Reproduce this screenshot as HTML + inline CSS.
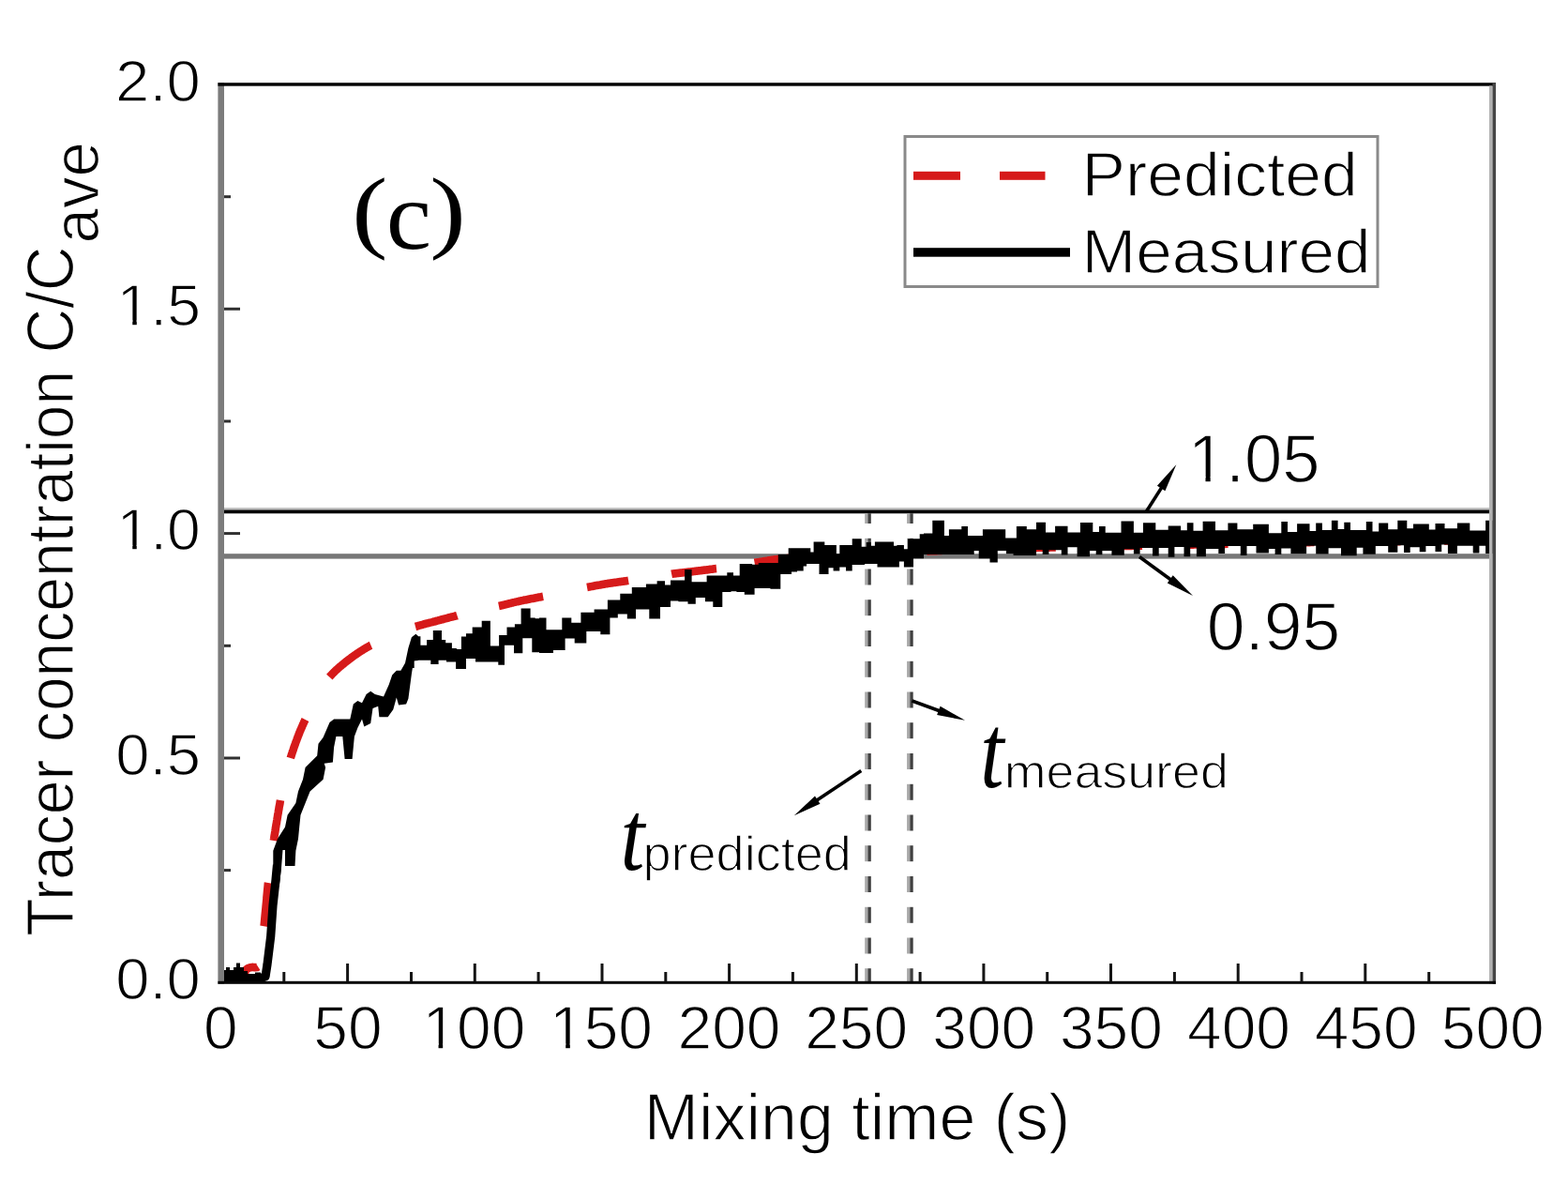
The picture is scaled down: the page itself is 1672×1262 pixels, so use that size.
<!DOCTYPE html><html><head><meta charset="utf-8"><title>Tracer concentration vs mixing time</title><style>html,body{margin:0;padding:0;background:#fff;}svg{display:block;filter:blur(0.45px);}text{font-family:"Liberation Sans",Arial,sans-serif;fill:#000;}.serif{font-family:"Liberation Serif","Times New Roman",serif;}.thin{stroke:#fff;stroke-width:1.3px;}</style></head><body><svg width="1672" height="1262" viewBox="0 0 1672 1262"><rect x="0" y="0" width="1672" height="1262" fill="#fff"/><rect x="239" y="541.2" width="1350" height="2.4" fill="#bdbdbd"/><rect x="239" y="543.5" width="1350" height="3.8" fill="#050505"/><rect x="239" y="590.2" width="1350" height="5.4" fill="#777"/><rect x="922.2" y="547.2" width="3.2" height="10.8" fill="#a8a8a8"/><rect x="925.4" y="547.2" width="3.4" height="10.8" fill="#404040"/><rect x="922.2" y="573.8" width="3.2" height="17.0" fill="#a8a8a8"/><rect x="925.4" y="573.8" width="3.4" height="17.0" fill="#404040"/><rect x="922.2" y="606.5" width="3.2" height="17.0" fill="#a8a8a8"/><rect x="925.4" y="606.5" width="3.4" height="17.0" fill="#404040"/><rect x="922.2" y="639.2" width="3.2" height="17.0" fill="#a8a8a8"/><rect x="925.4" y="639.2" width="3.4" height="17.0" fill="#404040"/><rect x="922.2" y="672.0" width="3.2" height="17.0" fill="#a8a8a8"/><rect x="925.4" y="672.0" width="3.4" height="17.0" fill="#404040"/><rect x="922.2" y="704.8" width="3.2" height="17.0" fill="#a8a8a8"/><rect x="925.4" y="704.8" width="3.4" height="17.0" fill="#404040"/><rect x="922.2" y="737.5" width="3.2" height="17.0" fill="#a8a8a8"/><rect x="925.4" y="737.5" width="3.4" height="17.0" fill="#404040"/><rect x="922.2" y="770.2" width="3.2" height="17.0" fill="#a8a8a8"/><rect x="925.4" y="770.2" width="3.4" height="17.0" fill="#404040"/><rect x="922.2" y="803.0" width="3.2" height="17.0" fill="#a8a8a8"/><rect x="925.4" y="803.0" width="3.4" height="17.0" fill="#404040"/><rect x="922.2" y="835.8" width="3.2" height="17.0" fill="#a8a8a8"/><rect x="925.4" y="835.8" width="3.4" height="17.0" fill="#404040"/><rect x="922.2" y="868.5" width="3.2" height="17.0" fill="#a8a8a8"/><rect x="925.4" y="868.5" width="3.4" height="17.0" fill="#404040"/><rect x="922.2" y="901.2" width="3.2" height="17.0" fill="#a8a8a8"/><rect x="925.4" y="901.2" width="3.4" height="17.0" fill="#404040"/><rect x="922.2" y="934.0" width="3.2" height="17.0" fill="#a8a8a8"/><rect x="925.4" y="934.0" width="3.4" height="17.0" fill="#404040"/><rect x="922.2" y="966.8" width="3.2" height="17.0" fill="#a8a8a8"/><rect x="925.4" y="966.8" width="3.4" height="17.0" fill="#404040"/><rect x="922.2" y="999.5" width="3.2" height="17.0" fill="#a8a8a8"/><rect x="925.4" y="999.5" width="3.4" height="17.0" fill="#404040"/><rect x="922.2" y="1032.2" width="3.2" height="14.2" fill="#a8a8a8"/><rect x="925.4" y="1032.2" width="3.4" height="14.2" fill="#404040"/><rect x="967.1" y="547.2" width="3.2" height="10.8" fill="#a8a8a8"/><rect x="970.3" y="547.2" width="3.4" height="10.8" fill="#404040"/><rect x="967.1" y="573.8" width="3.2" height="17.0" fill="#a8a8a8"/><rect x="970.3" y="573.8" width="3.4" height="17.0" fill="#404040"/><rect x="967.1" y="606.5" width="3.2" height="17.0" fill="#a8a8a8"/><rect x="970.3" y="606.5" width="3.4" height="17.0" fill="#404040"/><rect x="967.1" y="639.2" width="3.2" height="17.0" fill="#a8a8a8"/><rect x="970.3" y="639.2" width="3.4" height="17.0" fill="#404040"/><rect x="967.1" y="672.0" width="3.2" height="17.0" fill="#a8a8a8"/><rect x="970.3" y="672.0" width="3.4" height="17.0" fill="#404040"/><rect x="967.1" y="704.8" width="3.2" height="17.0" fill="#a8a8a8"/><rect x="970.3" y="704.8" width="3.4" height="17.0" fill="#404040"/><rect x="967.1" y="737.5" width="3.2" height="17.0" fill="#a8a8a8"/><rect x="970.3" y="737.5" width="3.4" height="17.0" fill="#404040"/><rect x="967.1" y="770.2" width="3.2" height="17.0" fill="#a8a8a8"/><rect x="970.3" y="770.2" width="3.4" height="17.0" fill="#404040"/><rect x="967.1" y="803.0" width="3.2" height="17.0" fill="#a8a8a8"/><rect x="970.3" y="803.0" width="3.4" height="17.0" fill="#404040"/><rect x="967.1" y="835.8" width="3.2" height="17.0" fill="#a8a8a8"/><rect x="970.3" y="835.8" width="3.4" height="17.0" fill="#404040"/><rect x="967.1" y="868.5" width="3.2" height="17.0" fill="#a8a8a8"/><rect x="970.3" y="868.5" width="3.4" height="17.0" fill="#404040"/><rect x="967.1" y="901.2" width="3.2" height="17.0" fill="#a8a8a8"/><rect x="970.3" y="901.2" width="3.4" height="17.0" fill="#404040"/><rect x="967.1" y="934.0" width="3.2" height="17.0" fill="#a8a8a8"/><rect x="970.3" y="934.0" width="3.4" height="17.0" fill="#404040"/><rect x="967.1" y="966.8" width="3.2" height="17.0" fill="#a8a8a8"/><rect x="970.3" y="966.8" width="3.4" height="17.0" fill="#404040"/><rect x="967.1" y="999.5" width="3.2" height="17.0" fill="#a8a8a8"/><rect x="970.3" y="999.5" width="3.4" height="17.0" fill="#404040"/><rect x="967.1" y="1032.2" width="3.2" height="14.2" fill="#a8a8a8"/><rect x="970.3" y="1032.2" width="3.4" height="14.2" fill="#404040"/><path d="M235.0,1040.0 L236.0,1040.0 L237.1,1040.1 L238.1,1040.1 L239.2,1040.2 L240.2,1040.2 L241.3,1040.3 L242.4,1040.3 L243.5,1040.3 L244.5,1040.4 L245.6,1040.4 L246.7,1040.5 L247.8,1040.5 L248.9,1040.5 L250.0,1040.5 L251.2,1040.5 L252.3,1040.5 L253.4,1040.4 L254.5,1040.3 L255.5,1040.2 L256.5,1040.1 L257.5,1039.8 L258.5,1039.4 L259.4,1038.8 L260.2,1038.0 L260.8,1037.1 L261.3,1036.2 L261.7,1035.2 L262.2,1034.0 L263.0,1033.0 L263.9,1032.4 L265.5,1031.6 L267.1,1031.2 L269.0,1030.9 L270.1,1031.0 L271.2,1031.1 L272.2,1031.2 L274.0,1031.0 L275.1,1030.3 L275.1,1030.3M281.5,987.2 L281.7,986.1 L281.8,985.1 L281.9,984.0 L282.0,983.0 L282.1,981.9 L282.2,980.8 L282.3,979.8 L282.4,978.7 L282.5,977.6 L282.6,976.5 L282.7,975.5 L282.8,974.5 L282.9,973.5 L283.0,972.5 L283.1,971.5 L283.2,970.4 L283.3,969.4 L283.4,968.4 L283.5,967.3 L283.6,966.3 L283.7,965.3 L283.8,964.3 L283.9,963.2 L284.0,962.2 L284.1,961.2 L284.2,960.1 L284.3,959.1 L284.4,958.0 L284.4,957.0 L284.5,956.0 L284.6,954.9 L284.7,953.9 L284.8,952.9 L284.9,951.8 L285.0,950.8 L285.1,949.7 L285.2,948.7 L285.3,947.7 L285.4,946.6 L285.5,945.6 L285.6,944.6 L285.7,943.6 L285.8,942.5 L285.9,941.5 L286.0,941.0M291.8,896.1 L292.0,895.0 L292.2,894.0 L292.3,893.0 L292.5,891.9 L292.6,890.9 L292.8,889.9 L293.0,888.9 L293.1,887.9 L293.3,886.8 L293.5,885.8 L293.6,884.8 L293.8,883.8 L293.9,882.7 L294.1,881.7 L294.3,880.7 L294.4,879.6 L294.6,878.6 L294.8,877.6 L295.0,876.6 L295.1,875.5 L295.3,874.5 L295.5,873.5 L295.6,872.5 L295.8,871.4 L296.0,870.4 L296.1,869.4 L296.3,868.4 L296.5,867.3 L296.7,866.3 L296.8,865.3 L297.0,864.2 L297.2,863.2 L297.4,862.2 L297.5,861.2 L297.7,860.1 L297.9,859.1 L298.1,858.1 L298.3,857.1 L298.5,856.1 L298.6,855.0 L298.8,854.0 L299.0,853.0 L299.0,853.0M309.8,808.0 L310.1,806.9 L310.5,805.9 L310.8,804.8 L311.1,803.8 L311.5,802.7 L311.8,801.6 L312.2,800.6 L312.6,799.5 L312.9,798.4 L313.3,797.3 L313.6,796.3 L314.0,795.2 L314.4,794.1 L314.8,793.1 L315.1,792.1 L315.5,791.0 L315.9,790.0 L316.3,789.0 L316.6,788.0 L317.0,787.0 L317.4,786.1 L317.7,785.1 L318.1,784.2 L318.5,783.2 L318.9,782.1 L319.3,781.1 L319.7,780.0 L320.1,779.0 L320.6,778.0 L321.0,777.0 L321.4,776.0 L321.9,775.0 L322.3,773.9 L322.8,772.9 L323.3,771.8 L323.7,770.8 L324.1,769.9 L324.6,768.9 L325.0,768.0 L325.5,767.0 L325.5,767.0M351.3,721.6 L352.0,720.8 L352.7,720.1 L353.4,719.3 L354.1,718.5 L354.9,717.8 L355.6,717.0 L356.4,716.3 L357.1,715.5 L357.9,714.8 L358.7,714.1 L359.4,713.4 L360.2,712.7 L361.0,711.9 L361.8,711.3 L362.6,710.6 L363.4,709.9 L364.2,709.2 L365.0,708.5 L365.9,707.9 L366.7,707.2 L367.5,706.5 L368.3,705.9 L369.1,705.2 L370.0,704.6 L370.8,704.0 L371.6,703.3 L372.4,702.7 L373.2,702.1 L374.1,701.5 L374.9,700.8 L375.7,700.2 L376.5,699.6 L377.4,699.0 L378.2,698.4 L379.0,697.9 L379.9,697.3 L380.7,696.7 L381.6,696.1 L382.4,695.6 L383.2,695.0 L384.1,694.5 L385.0,693.9 L385.8,693.4 L386.7,692.8 L387.5,692.3 L388.4,691.8 L389.3,691.3 L390.2,690.7 L391.0,690.2 L391.9,689.7 L392.8,689.2 L393.7,688.7 L394.6,688.2 L395.5,687.8 L395.5,687.8M443.0,668.0 L444.1,667.7 L445.1,667.3 L446.2,667.0 L447.2,666.7 L448.3,666.4 L449.3,666.1 L450.4,665.8 L451.4,665.5 L452.4,665.2 L453.5,665.0 L454.5,664.7 L455.6,664.4 L456.6,664.2 L457.6,663.9 L458.7,663.6 L459.7,663.4 L460.8,663.1 L461.8,662.8 L462.9,662.6 L463.9,662.3 L465.0,662.0 L466.1,661.7 L467.2,661.4 L468.2,661.1 L469.3,660.8 L470.4,660.5 L471.5,660.3 L472.6,660.0 L473.7,659.7 L474.8,659.4 L475.9,659.1 L477.0,658.8 L478.1,658.5 L479.2,658.2 L480.3,657.9 L481.4,657.6 L482.5,657.4 L483.6,657.1 L484.7,656.8 L485.8,656.5 L486.9,656.3 L487.5,656.1M531.9,646.0 L532.9,645.8 L534.0,645.5 L535.0,645.3 L536.1,645.0 L537.1,644.8 L538.1,644.5 L539.1,644.3 L540.1,644.0 L541.1,643.8 L542.1,643.5 L543.0,643.3 L544.0,643.1 L545.0,642.8 L546.0,642.6 L546.9,642.3 L547.9,642.1 L548.9,641.9 L549.9,641.6 L550.9,641.4 L551.9,641.2 L552.9,641.0 L554.0,640.7 L555.0,640.5 L556.1,640.3 L557.1,640.1 L558.2,639.8 L559.3,639.6 L560.4,639.4 L561.5,639.2 L562.6,639.0 L563.7,638.8 L564.8,638.5 L565.9,638.3 L567.0,638.1 L568.1,637.9 L569.2,637.7 L570.3,637.5 L571.4,637.3 L572.5,637.1 L573.6,636.8 L574.7,636.6 L575.8,636.4 L576.9,636.2 L578.0,636.0 L579.1,635.8 L579.1,635.8M626.0,626.0 L627.1,625.8 L628.2,625.6 L629.4,625.3 L630.4,625.1 L631.5,624.9 L632.6,624.7 L633.7,624.5 L634.7,624.3 L635.8,624.1 L636.8,623.9 L637.8,623.8 L638.8,623.6 L639.9,623.4 L640.9,623.2 L641.9,623.0 L642.9,622.9 L643.9,622.7 L644.9,622.5 L646.0,622.3 L647.0,622.2 L648.0,622.0 L649.0,621.8 L650.0,621.7 L651.0,621.5 L652.1,621.4 L653.3,621.2 L654.4,621.0 L655.6,620.9 L656.7,620.7 L657.9,620.6 L659.0,620.4 L660.2,620.3 L661.3,620.1 L662.4,620.0 L663.4,619.8 L664.4,619.7 L665.4,619.5 L666.4,619.4 L667.5,619.2 L668.5,619.1 L669.5,618.9 L670.1,618.8M716.1,611.8 L717.1,611.6 L718.1,611.5 L719.2,611.4 L720.3,611.2 L721.4,611.1 L722.4,611.0 L723.6,610.9 L724.7,610.8 L725.8,610.6 L726.9,610.5 L728.0,610.4 L729.1,610.2 L730.2,610.1 L731.3,610.0 L732.4,609.9 L733.5,609.8 L734.6,609.6 L735.7,609.5 L736.8,609.4 L737.9,609.2 L738.9,609.1 L740.0,609.0 L741.0,608.9 L742.0,608.8 L743.1,608.6 L744.1,608.5 L745.1,608.4 L746.1,608.3 L747.1,608.2 L748.1,608.0 L749.2,607.9 L750.3,607.8 L751.4,607.6 L752.6,607.5 L753.7,607.4 L754.8,607.2 L755.9,607.1 L756.9,606.9 L757.9,606.8 L758.9,606.7 L759.9,606.6 L760.9,606.4 L762.0,606.3 L763.0,606.1 L764.0,606.0 L764.0,606.0M804.6,599.8 L805.7,599.6 L806.7,599.5 L807.8,599.3 L808.9,599.2 L810.0,599.0 L811.0,598.8 L812.1,598.7 L813.1,598.5 L814.2,598.3 L815.4,598.1 L816.5,597.9 L817.6,597.7 L818.8,597.5 L819.8,597.3 L820.8,597.2 L821.9,597.0 L822.9,596.9 L823.9,596.7 L825.0,596.6 L826.0,596.4 L827.0,596.3 L828.0,596.2 L829.0,596.1 L830.0,596.0 L831.1,595.9 L832.1,595.8 L833.2,595.7 L834.2,595.6 L835.3,595.5 L836.3,595.4 L837.4,595.3 L838.5,595.2 L839.5,595.1 L840.6,595.0 L841.6,595.0 L842.7,594.9 L843.8,594.8 L844.8,594.7 L845.9,594.6 L847.0,594.5 L848.0,594.5 L849.1,594.4 L850.2,594.3 L850.2,594.3M896.5,591.6 L897.6,591.5 L898.6,591.5 L899.7,591.4 L900.7,591.4 L901.8,591.3 L902.8,591.3 L903.8,591.2 L904.9,591.2 L905.9,591.1 L907.0,591.1 L908.0,591.0 L909.0,591.0 L910.0,590.9 L911.1,590.9 L912.1,590.8 L913.1,590.8 L914.1,590.7 L915.1,590.7 L916.1,590.6 L917.2,590.6 L918.2,590.5 L919.2,590.5 L920.2,590.5 L921.2,590.4 L922.3,590.4 L923.3,590.3 L924.3,590.3 L925.4,590.2 L926.4,590.2 L927.4,590.1 L928.5,590.1 L929.5,590.0 L930.5,590.0 L931.5,589.9 L932.6,589.9 L933.6,589.8 L934.6,589.8 L935.6,589.7 L936.6,589.7 L937.7,589.6 L938.7,589.6 L939.7,589.5 L940.7,589.5 L941.8,589.5 L941.8,589.5M988.5,587.4 L989.5,587.4 L990.5,587.4 L991.5,587.3 L992.5,587.3 L993.5,587.2 L994.5,587.2 L995.5,587.2 L996.5,587.1 L997.5,587.1 L998.5,587.1 L999.5,587.0 L1000.5,587.0 L1001.5,586.9 L1002.6,586.9 L1003.6,586.9 L1004.6,586.8 L1005.7,586.8 L1006.7,586.8 L1007.7,586.7 L1008.8,586.7 L1009.8,586.7 L1010.8,586.6 L1011.8,586.6 L1012.9,586.6 L1013.9,586.5 L1014.9,586.5 L1015.9,586.5 L1017.0,586.4 L1018.0,586.4 L1019.0,586.4 L1020.0,586.3 L1021.0,586.3 L1022.0,586.3 L1023.0,586.2 L1024.0,586.2 L1025.0,586.2 L1026.1,586.1 L1027.1,586.1 L1028.1,586.1 L1029.1,586.0 L1030.1,586.0 L1031.1,586.0 L1032.1,585.9 L1033.1,585.9 L1033.6,585.9M1080.4,584.5 L1081.4,584.5 L1082.5,584.5 L1083.5,584.4 L1084.5,584.4 L1085.5,584.4 L1086.5,584.4 L1087.5,584.3 L1088.5,584.3 L1089.5,584.3 L1090.5,584.2 L1091.5,584.2 L1092.5,584.2 L1093.5,584.2 L1094.5,584.1 L1095.5,584.1 L1096.5,584.1 L1097.5,584.1 L1098.5,584.0 L1099.5,584.0 L1100.5,584.0 L1101.5,584.0 L1102.5,583.9 L1103.5,583.9 L1104.5,583.9 L1105.6,583.9 L1106.6,583.8 L1107.6,583.8 L1108.6,583.8 L1109.6,583.8 L1110.6,583.8 L1111.6,583.7 L1112.6,583.7 L1113.6,583.7 L1114.6,583.7 L1115.7,583.6 L1116.7,583.6 L1117.7,583.6 L1118.7,583.6 L1119.7,583.5 L1120.7,583.5 L1121.7,583.5 L1122.7,583.5 L1123.7,583.5 L1124.7,583.4 L1125.8,583.4 L1125.8,583.4M1172.2,582.5 L1173.2,582.5 L1174.2,582.5 L1175.3,582.5 L1176.3,582.5 L1177.3,582.4 L1178.3,582.4 L1179.3,582.4 L1180.3,582.4 L1181.3,582.4 L1182.3,582.3 L1183.3,582.3 L1184.3,582.3 L1185.4,582.3 L1186.4,582.3 L1187.4,582.2 L1188.4,582.2 L1189.4,582.2 L1190.4,582.2 L1191.4,582.2 L1192.4,582.1 L1193.4,582.1 L1194.4,582.1 L1195.5,582.1 L1196.5,582.1 L1197.5,582.0 L1198.5,582.0 L1199.5,582.0 L1200.5,582.0 L1201.5,582.0 L1202.5,581.9 L1203.5,581.9 L1204.5,581.9 L1205.6,581.9 L1206.6,581.9 L1207.6,581.8 L1208.6,581.8 L1209.6,581.8 L1210.6,581.8 L1211.6,581.8 L1212.6,581.7 L1213.6,581.7 L1214.6,581.7 L1215.7,581.7 L1216.7,581.7 L1217.7,581.6 L1217.7,581.6M1264.1,580.7 L1265.2,580.7 L1266.2,580.7 L1267.2,580.7 L1268.2,580.6 L1269.2,580.6 L1270.2,580.6 L1271.2,580.6 L1272.2,580.6 L1273.2,580.5 L1274.2,580.5 L1275.3,580.5 L1276.3,580.5 L1277.3,580.5 L1278.3,580.4 L1279.3,580.4 L1280.3,580.4 L1281.3,580.4 L1282.3,580.4 L1283.3,580.3 L1284.3,580.3 L1285.4,580.3 L1286.4,580.3 L1287.4,580.3 L1288.4,580.2 L1289.4,580.2 L1290.4,580.2 L1291.4,580.2 L1292.4,580.2 L1293.4,580.1 L1294.4,580.1 L1295.5,580.1 L1296.5,580.1 L1297.5,580.1 L1298.5,580.0 L1299.5,580.0 L1300.5,580.0 L1301.5,580.0 L1302.5,579.9 L1303.5,579.9 L1304.5,579.9 L1305.6,579.9 L1306.6,579.9 L1307.6,579.8 L1308.6,579.8 L1309.6,579.8 L1309.6,579.8M1356.1,578.8 L1357.1,578.8 L1358.1,578.8 L1359.1,578.7 L1360.1,578.7 L1361.1,578.7 L1362.1,578.7 L1363.1,578.7 L1364.1,578.6 L1365.2,578.6 L1366.2,578.6 L1367.2,578.6 L1368.2,578.6 L1369.2,578.5 L1370.2,578.5 L1371.2,578.5 L1372.2,578.5 L1373.2,578.5 L1374.2,578.4 L1375.3,578.4 L1376.3,578.4 L1377.3,578.4 L1378.3,578.4 L1379.3,578.4 L1380.3,578.3 L1381.3,578.3 L1382.3,578.3 L1383.3,578.3 L1384.3,578.3 L1385.4,578.2 L1386.4,578.2 L1387.4,578.2 L1388.4,578.2 L1389.4,578.2 L1390.4,578.2 L1391.4,578.1 L1392.4,578.1 L1393.4,578.1 L1394.4,578.1 L1395.5,578.1 L1396.5,578.1 L1397.5,578.0 L1398.5,578.0 L1399.5,578.0 L1400.5,578.0 L1401.5,578.0 L1401.5,578.0M1448.1,577.5 L1449.1,577.5 L1450.2,577.4 L1451.2,577.4 L1452.2,577.4 L1453.2,577.4 L1454.2,577.4 L1455.3,577.4 L1456.3,577.4 L1457.3,577.4 L1458.3,577.4 L1459.3,577.4 L1460.4,577.4 L1461.4,577.3 L1462.4,577.3 L1463.4,577.3 L1464.4,577.3 L1465.4,577.3 L1466.5,577.3 L1467.5,577.3 L1468.5,577.3 L1469.5,577.3 L1470.6,577.3 L1471.6,577.3 L1472.6,577.3 L1473.7,577.2 L1474.7,577.2 L1475.7,577.2 L1476.8,577.2 L1477.8,577.2 L1478.8,577.2 L1479.8,577.2 L1480.9,577.2 L1481.9,577.2 L1482.9,577.2 L1484.0,577.2 L1485.0,577.1 L1486.0,577.1 L1487.0,577.1 L1488.0,577.1 L1489.0,577.1 L1490.0,577.1 L1491.0,577.1 L1492.0,577.1 L1493.0,577.1 L1493.5,577.1M1539.9,576.6 L1541.0,576.5 L1542.0,576.5 L1543.0,576.5 L1544.1,576.5 L1545.1,576.5 L1546.1,576.5 L1547.1,576.5 L1548.2,576.5 L1549.2,576.5 L1550.2,576.4 L1551.3,576.4 L1552.3,576.4 L1553.3,576.4 L1554.3,576.4 L1555.3,576.4 L1556.3,576.4 L1557.3,576.4 L1558.3,576.4 L1559.3,576.3 L1560.3,576.3 L1561.3,576.3 L1562.3,576.3 L1563.3,576.3 L1564.3,576.3 L1565.3,576.3 L1566.3,576.3 L1567.3,576.2 L1568.4,576.2 L1569.4,576.2 L1570.4,576.2 L1571.4,576.2 L1572.4,576.2 L1573.4,576.2 L1574.4,576.2 L1575.4,576.2 L1576.4,576.1 L1577.4,576.1 L1578.4,576.1 L1579.4,576.1 L1580.5,576.1 L1581.5,576.1 L1582.5,576.1 L1583.5,576.1 L1584.5,576.1 L1585.5,576.0 L1585.5,576.0" fill="none" stroke="#d61a1a" stroke-width="8.6" stroke-linecap="butt" stroke-linejoin="round"/><path d="M236,1047.5 L236,1034 L241,1034 L241,1031 L245,1031 L245,1034 L249,1034 L249,1031 L252,1031 L252,1026.5 L256,1026.5 L256,1031 L260,1031 L260,1035 L264,1035 L264,1038 L272,1038 L272,1036.5 L278,1036.5 L278,1047.5Z" fill="#000"/><path d="M276.0,1042.0 L280.0,1042.0 L283.0,1041.0 L285.0,1028.0 L288.7,998.0 L291.0,965.0 L294.0,938.0 L295.5,922.0" fill="none" stroke="#000" stroke-width="9.2" stroke-linejoin="round"/><path d="M290.7,945.0 L291.3,919.5 L291.3,906.8 L296.0,894.0 L304.0,881.4 L306.6,868.7 L315.4,856.1 L318.0,843.4 L323.0,830.7 L325.6,818.0 L338.2,805.4 L339.5,792.7 L344.6,786.1 L351.5,770.0 L356.1,766.6 L373.3,766.6 L376.8,750.5 L381.4,747.0 L386.0,749.3 L390.6,740.1 L395.2,736.7 L399.8,740.1 L409.0,742.4 L414.7,729.8 L418.2,719.4 L422.8,714.8 L427.4,714.8 L432.0,706.8 L435.4,690.7 L438.9,679.2 L443.4,675.7 L446.0,678.0 L446.0,704.0 L441.1,704.5 L438.9,718.3 L435.4,744.7 L433.1,750.5 L425.1,751.6 L422.8,743.6 L419.3,756.2 L413.6,764.3 L404.4,764.3 L403.2,752.8 L397.5,755.1 L395.2,771.1 L388.3,774.6 L386.0,766.6 L381.4,775.7 L377.9,784.9 L375.6,809.1 L367.6,809.1 L365.3,784.9 L358.4,784.9 L356.1,796.4 L354.9,812.5 L345.7,813.7 L347.1,818.0 L344.6,830.7 L330.6,843.4 L325.6,856.1 L320.5,868.7 L319.2,881.4 L318.0,894.0 L315.4,906.8 L314.5,923.0 L304.0,923.0 L304.0,906.0 L301.5,906.0 L300.0,925.0 L297.7,945.0Z" fill="#000"/><path d="M440.0,678.2 L448.4,678.2 L448.4,687.8 L455.1,687.8 L455.1,682.0 L461.8,682.0 L461.8,671.9 L471.0,671.9 L471.0,682.0 L475.2,682.0 L475.2,685.3 L481.9,685.3 L481.9,691.0 L486.9,691.0 L486.9,692.0 L491.9,692.0 L491.9,678.6 L497.0,678.6 L497.0,675.2 L503.7,675.2 L503.7,668.5 L513.7,668.5 L513.7,661.8 L522.9,661.8 L522.9,688.6 L532.1,688.6 L532.1,677.0 L540.5,677.0 L540.5,668.5 L548.9,668.5 L548.9,665.2 L555.6,665.2 L555.6,648.4 L565.6,648.4 L565.6,658.5 L570.7,658.5 L570.7,659.3 L575.0,659.3 L575.0,658.6 L582.5,658.6 L582.5,671.2 L599.3,671.2 L599.3,658.6 L609.3,658.6 L609.3,663.7 L619.4,663.7 L619.4,652.8 L633.6,652.8 L633.6,649.4 L647.9,649.4 L647.9,639.4 L661.3,639.4 L661.3,632.7 L673.8,632.7 L673.8,626.0 L688.9,626.0 L688.9,622.6 L700.6,622.6 L700.6,619.3 L709.0,619.3 L709.0,623.6 L715.0,623.6 L715.0,618.6 L730.1,618.6 L730.1,606.9 L737.6,606.9 L737.6,620.3 L753.6,620.3 L753.6,613.5 L764.4,613.5 L764.4,613.5 L775.3,613.5 L775.3,610.2 L782.0,610.2 L782.0,613.5 L788.7,613.5 L788.7,601.0 L802.1,601.0 L802.1,601.8 L808.8,601.8 L808.8,600.0 L829.8,600.0 L829.8,591.0 L840.7,591.0 L840.7,584.2 L850.0,584.2 L850.0,584.3 L864.3,584.3 L864.3,588.5 L867.6,588.5 L867.6,577.6 L879.3,577.6 L879.3,581.0 L891.9,581.0 L891.9,590.2 L895.3,590.2 L895.3,581.0 L908.7,581.0 L908.7,574.3 L918.7,574.3 L918.7,582.7 L923.7,582.7 L923.7,578.0 L928.8,578.0 L928.8,581.8 L932.9,581.8 L932.9,577.6 L953.0,577.6 L953.0,581.8 L956.4,581.8 L956.4,581.0 L963.9,581.0 L963.9,585.2 L968.1,585.2 L968.1,574.3 L980.7,574.3 L980.7,569.3 L985.0,569.3 L985.0,568.5 L994.3,568.5 L994.3,554.7 L1006.9,554.7 L1006.9,571.0 L1011.9,571.0 L1011.9,564.3 L1025.3,564.3 L1025.3,561.0 L1032.0,561.0 L1032.0,571.0 L1047.9,571.0 L1047.9,564.3 L1072.2,564.3 L1072.2,573.5 L1083.9,573.5 L1083.9,561.0 L1094.8,561.0 L1094.8,564.3 L1105.0,564.3 L1105.0,556.8 L1115.0,556.8 L1115.0,567.5 L1125.1,567.5 L1125.1,560.7 L1138.5,560.7 L1138.5,567.4 L1151.9,567.4 L1151.9,556.9 L1165.3,556.9 L1165.3,567.1 L1172.0,567.1 L1172.0,561.0 L1178.7,561.0 L1178.7,567.8 L1195.5,567.8 L1195.5,555.5 L1208.9,555.5 L1208.9,567.7 L1218.9,567.7 L1218.9,557.3 L1232.3,557.3 L1232.3,564.7 L1245.7,564.7 L1245.7,560.6 L1259.1,560.6 L1259.1,565.2 L1265.8,565.2 L1265.8,557.2 L1272.5,557.2 L1272.5,565.8 L1282.6,565.8 L1282.6,555.7 L1296.0,555.7 L1296.0,565.2 L1309.4,565.2 L1309.4,557.5 L1319.4,557.5 L1319.4,564.3 L1336.2,564.3 L1336.2,558.7 L1352.9,558.7 L1352.9,568.2 L1366.3,568.2 L1366.3,555.9 L1373.0,555.9 L1373.0,567.0 L1383.1,567.0 L1383.1,558.3 L1396.5,558.3 L1396.5,565.9 L1403.2,565.9 L1403.2,557.5 L1409.9,557.5 L1409.9,565.0 L1419.9,565.0 L1419.9,554.7 L1426.6,554.7 L1426.6,564.1 L1433.3,564.1 L1433.3,556.8 L1440.0,556.8 L1440.0,564.9 L1456.8,564.9 L1456.8,556.1 L1463.5,556.1 L1463.5,566.4 L1470.2,566.4 L1470.2,557.4 L1480.2,557.4 L1480.2,564.3 L1490.3,564.3 L1490.3,554.7 L1500.3,554.7 L1500.3,563.3 L1507.0,563.3 L1507.0,558.5 L1523.8,558.5 L1523.8,564.6 L1530.5,564.6 L1530.5,557.9 L1540.5,557.9 L1540.5,563.2 L1553.9,563.2 L1553.9,557.6 L1567.3,557.6 L1567.3,565.6 L1584.1,565.6 L1584.1,554.7 L1591.5,554.7 L1591.5,589.9 L1584.1,589.9 L1584.1,581.7 L1577.4,581.7 L1577.4,589.5 L1570.7,589.5 L1570.7,581.7 L1553.9,581.7 L1553.9,590.0 L1543.9,590.0 L1543.9,580.4 L1537.2,580.4 L1537.2,587.9 L1530.5,587.9 L1530.5,582.0 L1520.4,582.0 L1520.4,588.3 L1513.7,588.3 L1513.7,583.2 L1503.7,583.2 L1503.7,588.9 L1497.0,588.9 L1497.0,581.3 L1490.3,581.3 L1490.3,588.8 L1480.2,588.8 L1480.2,582.1 L1466.8,582.1 L1466.8,590.7 L1453.4,590.7 L1453.4,583.8 L1446.7,583.8 L1446.7,592.2 L1430.0,592.2 L1430.0,584.2 L1416.6,584.2 L1416.6,590.5 L1403.2,590.5 L1403.2,581.8 L1393.1,581.8 L1393.1,590.3 L1376.4,590.3 L1376.4,584.4 L1366.3,584.4 L1366.3,591.0 L1359.6,591.0 L1359.6,585.0 L1352.9,585.0 L1352.9,589.4 L1339.5,589.4 L1339.5,582.1 L1329.5,582.1 L1329.5,592.0 L1322.8,592.0 L1322.8,582.1 L1306.0,582.1 L1306.0,590.0 L1299.3,590.0 L1299.3,585.0 L1285.9,585.0 L1285.9,593.2 L1275.9,593.2 L1275.9,583.6 L1269.2,583.6 L1269.2,593.2 L1262.5,593.2 L1262.5,583.0 L1252.4,583.0 L1252.4,593.7 L1245.7,593.7 L1245.7,583.9 L1235.7,583.9 L1235.7,592.4 L1229.0,592.4 L1229.0,584.0 L1215.6,584.0 L1215.6,590.5 L1208.9,590.5 L1208.9,585.2 L1198.8,585.2 L1198.8,591.7 L1185.4,591.7 L1185.4,586.9 L1175.4,586.9 L1175.4,591.3 L1168.7,591.3 L1168.7,586.9 L1162.0,586.9 L1162.0,593.2 L1148.6,593.2 L1148.6,583.2 L1138.5,583.2 L1138.5,591.6 L1131.8,591.6 L1131.8,586.2 L1118.4,586.2 L1118.4,590.9 L1111.7,590.9 L1111.7,585.9 L1105.0,585.9 L1105.0,592.0 L1080.6,592.0 L1080.6,590.3 L1073.0,590.3 L1073.0,587.0 L1063.8,587.0 L1063.8,599.5 L1055.5,599.5 L1055.5,595.3 L1043.7,595.3 L1043.7,587.0 L1038.7,587.0 L1038.7,591.0 L985.0,591.0 L985.0,595.2 L974.0,595.2 L974.0,604.4 L963.9,604.4 L963.9,598.6 L958.9,598.6 L958.9,604.4 L935.5,604.4 L935.5,601.1 L922.0,601.1 L922.0,602.0 L908.7,602.0 L908.7,608.6 L902.0,608.6 L902.0,604.4 L895.3,604.4 L895.3,608.6 L888.6,608.6 L888.6,605.3 L883.5,605.3 L883.5,612.0 L873.5,612.0 L873.5,601.1 L860.1,601.1 L860.1,603.6 L856.7,603.6 L856.7,608.6 L850.0,608.6 L850.0,609.4 L844.0,609.4 L844.0,611.9 L832.3,611.9 L832.3,627.8 L821.4,627.8 L821.4,627.0 L804.6,627.0 L804.6,633.7 L793.8,633.7 L793.8,631.1 L785.4,631.1 L785.4,630.3 L779.5,630.3 L779.5,631.1 L770.3,631.1 L770.3,647.0 L760.3,647.0 L760.3,641.2 L751.9,641.2 L751.9,637.0 L741.8,637.0 L741.8,643.7 L733.5,643.7 L733.5,641.2 L723.4,641.2 L723.4,640.4 L715.0,640.4 L715.0,647.0 L710.0,647.0 L710.0,646.9 L704.0,646.9 L704.0,659.5 L692.3,659.5 L692.3,649.4 L678.0,649.4 L678.0,659.5 L668.8,659.5 L668.8,654.4 L658.8,654.4 L658.8,658.6 L650.4,658.6 L650.4,676.2 L640.3,676.2 L640.3,672.9 L625.3,672.9 L625.3,685.4 L612.7,685.4 L612.7,680.4 L602.6,680.4 L602.6,693.0 L590.0,693.0 L590.0,696.0 L575.0,696.0 L575.0,695.3 L567.3,695.3 L567.3,680.3 L557.3,680.3 L557.3,696.2 L548.0,696.2 L548.0,687.8 L538.0,687.8 L538.0,708.7 L531.3,708.7 L531.3,705.4 L507.0,705.4 L507.0,702.0 L497.0,702.0 L497.0,712.9 L486.1,712.9 L486.1,705.4 L476.0,705.4 L476.0,703.7 L467.6,703.7 L467.6,707.9 L459.3,707.9 L459.3,703.7 L441.7,703.7 L441.7,712.0 L440.0,712.0Z" fill="#000"/><rect x="232.4" y="88.2" width="6.6" height="960.6" fill="#7c7c7c"/><rect x="232.4" y="88.2" width="1362.6" height="3.5" fill="#050505"/><rect x="1588" y="91.5" width="3.5" height="957" fill="#b2b2b2"/><rect x="1591.5" y="88.2" width="3.6" height="960.6" fill="#454545"/><rect x="232.4" y="1045.8" width="1362.6" height="3.0" fill="#050505"/><rect x="301.3" y="1036" width="3" height="10.5" fill="#151515"/><rect x="369.1" y="1027" width="3" height="19.5" fill="#151515"/><rect x="437.0" y="1036" width="3" height="10.5" fill="#151515"/><rect x="504.8" y="1027" width="3" height="19.5" fill="#151515"/><rect x="572.6" y="1036" width="3" height="10.5" fill="#151515"/><rect x="640.5" y="1027" width="3" height="19.5" fill="#151515"/><rect x="708.3" y="1036" width="3" height="10.5" fill="#151515"/><rect x="776.1" y="1027" width="3" height="19.5" fill="#151515"/><rect x="843.9" y="1036" width="3" height="10.5" fill="#151515"/><rect x="911.8" y="1027" width="3" height="19.5" fill="#151515"/><rect x="979.6" y="1036" width="3" height="10.5" fill="#151515"/><rect x="1047.4" y="1027" width="3" height="19.5" fill="#151515"/><rect x="1115.2" y="1036" width="3" height="10.5" fill="#151515"/><rect x="1183.0" y="1027" width="3" height="19.5" fill="#151515"/><rect x="1250.9" y="1036" width="3" height="10.5" fill="#151515"/><rect x="1318.7" y="1027" width="3" height="19.5" fill="#151515"/><rect x="1386.5" y="1036" width="3" height="10.5" fill="#151515"/><rect x="1454.3" y="1027" width="3" height="19.5" fill="#151515"/><rect x="1522.2" y="1036" width="3" height="10.5" fill="#151515"/><rect x="239" y="926.1" width="7" height="3" fill="#303030"/><rect x="239" y="806.5" width="17" height="3" fill="#303030"/><rect x="239" y="686.8" width="7" height="3" fill="#303030"/><rect x="239" y="567.1" width="17" height="3" fill="#303030"/><rect x="239" y="447.5" width="7" height="3" fill="#303030"/><rect x="239" y="327.8" width="17" height="3" fill="#303030"/><rect x="239" y="208.2" width="7" height="3" fill="#303030"/><text class="thin" transform="translate(216.97,1117.50) scale(1.0300,1)" style="font-size:64px;">0</text><text class="thin" transform="translate(334.26,1117.50) scale(1.0300,1)" style="font-size:64px;">50</text><text class="thin" transform="translate(450.38,1117.50) scale(1.0300,1)" style="font-size:64px;">100</text><rect x="454.01" y="1112.12" width="13.55" height="6.78" fill="#fff"/><rect x="472.19" y="1112.12" width="12.84" height="6.78" fill="#fff"/><text class="thin" transform="translate(586.03,1117.50) scale(1.0300,1)" style="font-size:64px;">150</text><rect x="589.66" y="1112.12" width="13.55" height="6.78" fill="#fff"/><rect x="607.84" y="1112.12" width="12.84" height="6.78" fill="#fff"/><text class="thin" transform="translate(722.54,1117.50) scale(1.0300,1)" style="font-size:64px;">200</text><text class="thin" transform="translate(858.19,1117.50) scale(1.0300,1)" style="font-size:64px;">250</text><text class="thin" transform="translate(994.24,1117.50) scale(1.0300,1)" style="font-size:64px;">300</text><text class="thin" transform="translate(1129.89,1117.50) scale(1.0300,1)" style="font-size:64px;">350</text><text class="thin" transform="translate(1266.04,1117.50) scale(1.0300,1)" style="font-size:64px;">400</text><text class="thin" transform="translate(1401.69,1117.50) scale(1.0300,1)" style="font-size:64px;">450</text><text class="thin" transform="translate(1536.78,1117.50) scale(1.0300,1)" style="font-size:64px;">500</text><text class="thin" transform="translate(123.25,1064.86) scale(1.0263,1)" style="font-size:63.5px;">0.0</text><text class="thin" transform="translate(123.25,825.53) scale(1.0286,1)" style="font-size:63.5px;">0.5</text><text class="thin" transform="translate(124.51,586.21) scale(1.0117,1)" style="font-size:63.5px;">1.0</text><rect x="128.01" y="580.87" width="13.25" height="6.74" fill="#fff"/><rect x="145.74" y="580.87" width="12.56" height="6.74" fill="#fff"/><text class="thin" transform="translate(124.50,346.56) scale(1.0140,1)" style="font-size:63.5px;">1.5</text><rect x="128.01" y="341.21" width="13.28" height="6.74" fill="#fff"/><rect x="145.78" y="341.21" width="12.58" height="6.74" fill="#fff"/><text class="thin" transform="translate(123.12,107.56) scale(1.0278,1)" style="font-size:63.5px;">2.0</text><text class="thin" transform="translate(686.76,1214.50) scale(0.9990,1)" style="font-size:70px;">Mixing time (s)</text><text class="thin" transform="translate(77.60,997.78) rotate(-90) scale(0.9302,1)" style="font-size:71px">Tracer concentration C/C</text><text class="thin" transform="translate(104.70,259.46) rotate(-90) scale(0.9473,1)" style="font-size:71px">ave</text><text transform="translate(375.27,256.90) scale(1.1741,1)" style="font-family:'Liberation Serif',serif;font-size:97.5px;">(</text><text transform="translate(411.76,264.70) scale(1.0411,1)" style="font-family:'Liberation Serif',serif;font-size:104.5px;">c</text><text transform="translate(458.27,256.90) scale(1.1860,1)" style="font-family:'Liberation Serif',serif;font-size:97.5px;">)</text><rect x="965" y="145.5" width="504" height="160" fill="none" stroke="#8a8a8a" stroke-width="3"/><rect x="974" y="182.8" width="50" height="9" fill="#d61a1a"/><rect x="1066" y="182.8" width="48.5" height="9" fill="#d61a1a"/><rect x="974" y="264.2" width="167" height="9.5" fill="#000"/><text class="thin" transform="translate(1153.48,209.00) scale(1.0559,1)" style="font-size:66px;">Predicted</text><text class="thin" transform="translate(1153.52,290.80) scale(1.0500,1)" style="font-size:66px;">Measured</text><text class="thin" transform="translate(1266.69,514.20) scale(1.0051,1)" style="font-size:72px;">1.05</text><rect x="1270.79" y="508.22" width="14.70" height="7.38" fill="#fff"/><rect x="1290.68" y="508.22" width="13.92" height="7.38" fill="#fff"/><text class="thin" transform="translate(1286.64,692.80) scale(1.0186,1)" style="font-size:72px;">0.95</text><text transform="translate(1045.30,838.90) scale(0.8145,1)" style="font-family:'Liberation Serif',serif;font-style:italic;font-size:111.7px;">t</text><text class="thin" transform="translate(1070.73,839.50) scale(1.0243,1)" style="font-size:52.5px;">measured</text><text transform="translate(661.52,927.00) scale(0.8802,1)" style="font-family:'Liberation Serif',serif;font-style:italic;font-size:105.6px;">t</text><text class="thin" transform="translate(685.41,928.20) scale(1.0306,1)" style="font-size:52.5px;">predicted</text><line x1="1222.5" y1="545.0" x2="1240.3" y2="517.1" stroke="#000" stroke-width="3.6"/><polygon points="1254.3,495.2 1242.4,523.2 1233.9,517.8" fill="#000"/><line x1="1215.0" y1="593.5" x2="1251.0" y2="619.7" stroke="#000" stroke-width="3.6"/><polygon points="1272.0,635.0 1244.8,621.4 1250.7,613.3" fill="#000"/><line x1="972.5" y1="747.0" x2="1004.6" y2="758.8" stroke="#000" stroke-width="3.6"/><polygon points="1029.0,767.8 999.1,762.1 1002.6,752.7" fill="#000"/><line x1="918.3" y1="821.5" x2="868.4" y2="854.8" stroke="#000" stroke-width="3.6"/><polygon points="846.8,869.3 869.0,848.5 874.5,856.8" fill="#000"/></svg></body></html>
